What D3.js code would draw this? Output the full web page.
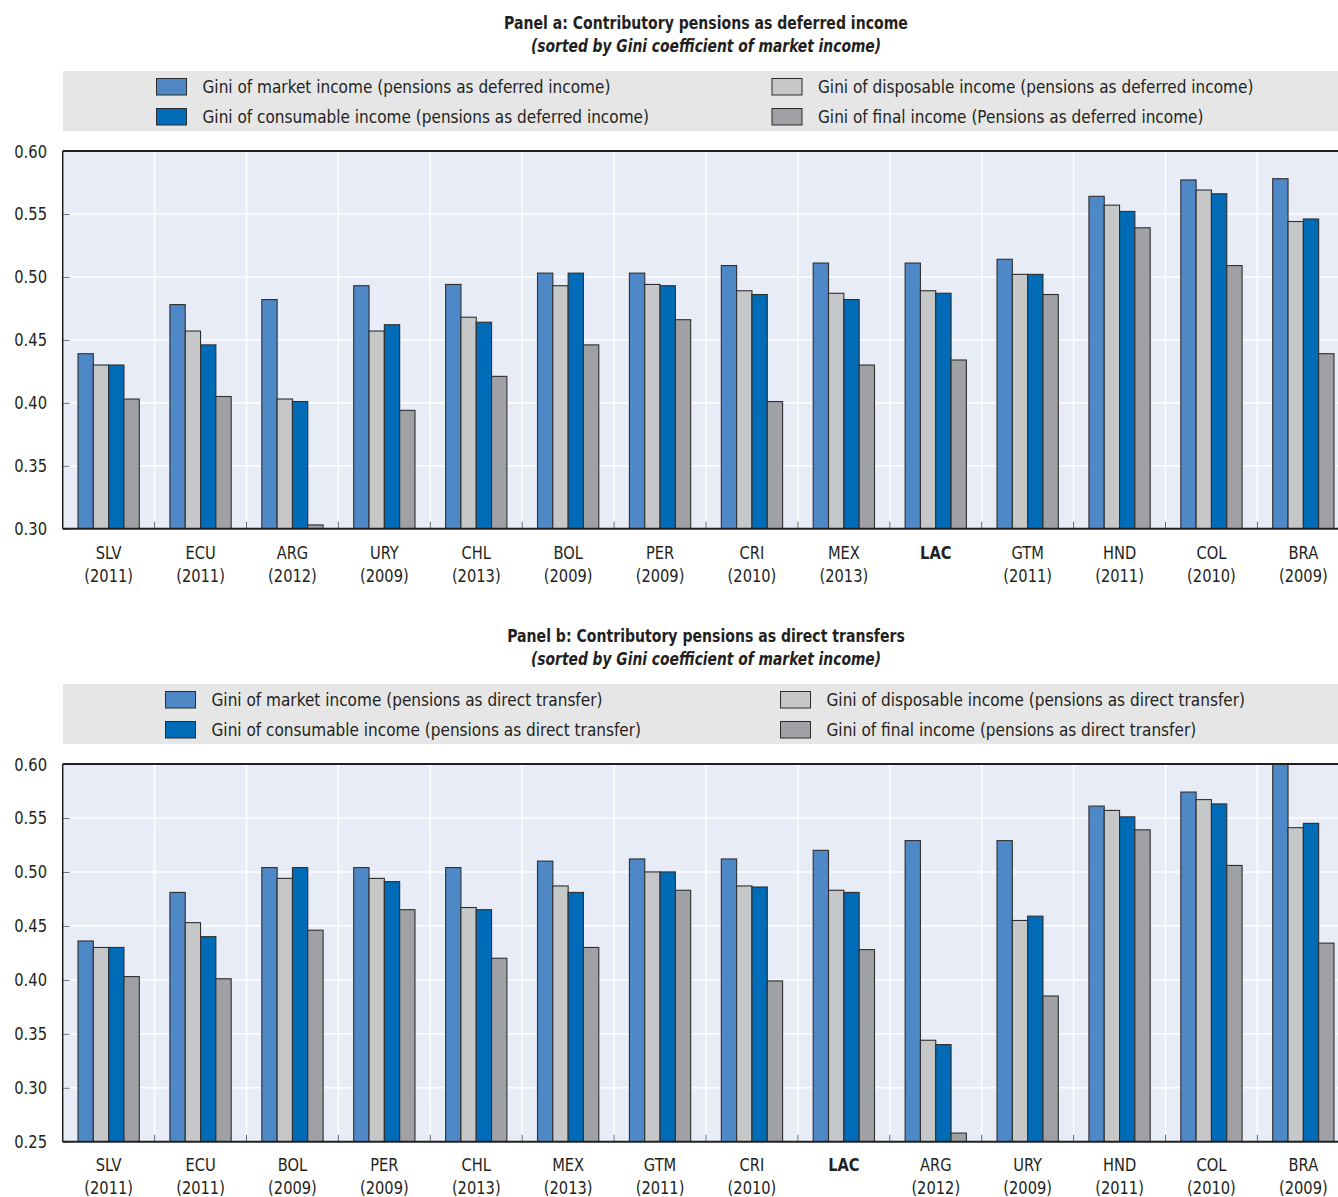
<!DOCTYPE html>
<html>
<head>
<meta charset="utf-8">
<script src="https://cdn.jsdelivr.net/npm/d3@7"></script>
<style>
  html, body { margin: 0; padding: 0; background: #ffffff; }
  svg { display: block; }
  text { font-family: "Liberation Sans Narrow", "DejaVu Sans Condensed", "Arial Narrow", sans-serif; fill: #231f20; }
</style>
</head>
<body>
<svg id="chart" width="1338" height="1197"></svg>
<script>
// ---- Panel a: contributory pensions as deferred income ----
const countriesA = ["SLV", "ECU", "ARG", "URY", "CHL", "BOL", "PER", "CRI", "MEX", "LAC", "GTM", "HND", "COL", "BRA"];
const yearsA     = ["2011", "2011", "2012", "2009", "2013", "2009", "2009", "2010", "2013", "", "2011", "2011", "2010", "2009"];
const marketA     = [0.439, 0.478, 0.482, 0.493, 0.494, 0.503, 0.503, 0.509, 0.511, 0.511, 0.514, 0.564, 0.577, 0.578];
const disposableA = [0.430, 0.457, 0.403, 0.457, 0.468, 0.493, 0.494, 0.489, 0.487, 0.489, 0.502, 0.557, 0.569, 0.544];
const consumableA = [0.430, 0.446, 0.401, 0.462, 0.464, 0.503, 0.493, 0.486, 0.482, 0.487, 0.502, 0.552, 0.566, 0.546];
const finalA      = [0.403, 0.405, 0.303, 0.394, 0.421, 0.446, 0.466, 0.401, 0.430, 0.434, 0.486, 0.539, 0.509, 0.439];
const ticksA = [0.30, 0.35, 0.40, 0.45, 0.50, 0.55, 0.60];

// ---- Panel b: contributory pensions as direct transfers ----
const countriesB = ["SLV", "ECU", "BOL", "PER", "CHL", "MEX", "GTM", "CRI", "LAC", "ARG", "URY", "HND", "COL", "BRA"];
const yearsB     = ["2011", "2011", "2009", "2009", "2013", "2013", "2011", "2010", "", "2012", "2009", "2011", "2010", "2009"];
const marketB     = [0.436, 0.481, 0.504, 0.504, 0.504, 0.510, 0.512, 0.512, 0.520, 0.529, 0.529, 0.561, 0.574, 0.610];
const disposableB = [0.430, 0.453, 0.494, 0.494, 0.467, 0.487, 0.500, 0.487, 0.483, 0.344, 0.455, 0.557, 0.567, 0.541];
const consumableB = [0.430, 0.440, 0.504, 0.491, 0.465, 0.481, 0.500, 0.486, 0.481, 0.340, 0.459, 0.551, 0.563, 0.545];
const finalB      = [0.403, 0.401, 0.446, 0.465, 0.420, 0.430, 0.483, 0.399, 0.428, 0.258, 0.385, 0.539, 0.506, 0.434];
const ticksB = [0.25, 0.30, 0.35, 0.40, 0.45, 0.50, 0.55, 0.60];

const seriesKeys = ["market", "disposable", "consumable", "final"];
const colors = { market: "#4f88c6", disposable: "#c6c7c9", consumable: "#006bb6", final: "#a0a1a4" };

const svg = d3.select("#chart");
const plotLeft = 62.7;
const bandW = 91.9;

// narrow text: the face is squeezed horizontally to get a condensed look
function label(parent, x, y, str, o = {}) {
  const t = parent.append("text")
    .attr("transform", `translate(${x},${y}) scale(${o.sx || 0.92},1)`)
    .attr("text-anchor", o.anchor || "start")
    .attr("font-size", o.size || 18)
    .text(str);
  if (o.weight) t.attr("font-weight", o.weight);
  if (o.style) t.attr("font-style", o.style);
  return t;
}

function drawPanel(opt) {
  const g = svg.append("g");
  const plotRight = plotLeft + bandW * opt.countries.length;

  // titles
  label(g, 706, opt.titleY, opt.title, { anchor: "middle", size: 17, weight: "bold", sx: 0.92 });
  label(g, 706, opt.titleY + 23, "(sorted by Gini coefficient of market income)",
    { anchor: "middle", size: 17, weight: "bold", style: "italic", sx: 0.905 });

  // legend
  g.append("rect").attr("x", 63).attr("y", opt.legendY).attr("width", 1275).attr("height", 60).attr("fill", "#e6e6e7");
  const legendItems = [
    { key: "market", label: opt.labels[0], col: 0, row: 0 },
    { key: "consumable", label: opt.labels[2], col: 0, row: 1 },
    { key: "disposable", label: opt.labels[1], col: 1, row: 0 },
    { key: "final", label: opt.labels[3], col: 1, row: 1 }
  ];
  legendItems.forEach(d => {
    const lx = opt.legendX[d.col];
    const ly = opt.legendY + 7.5 + d.row * 30;
    g.append("rect").attr("x", lx).attr("y", ly).attr("width", 30).attr("height", 16.5)
      .attr("fill", colors[d.key]).attr("stroke", "#2b2b2b").attr("stroke-width", 1);
    label(g, lx + 46, ly + 14.5, d.label, { size: 18, sx: 0.946 });
  });

  // scales
  const x0 = d3.scaleBand().domain(opt.countries).range([plotLeft, plotRight]).paddingInner(0).paddingOuter(0);
  const x1 = d3.scaleBand().domain(seriesKeys).range([0, x0.bandwidth()]).paddingInner(0).paddingOuter(1);
  const y = d3.scaleLinear().domain(opt.domain).range([opt.bottom, opt.top]);

  // plot background
  const clipId = "clip-" + opt.id;
  svg.append("clipPath").attr("id", clipId).append("rect")
    .attr("x", plotLeft).attr("y", opt.top).attr("width", plotRight - plotLeft).attr("height", opt.bottom - opt.top);
  g.append("rect").attr("x", plotLeft).attr("y", opt.top).attr("width", plotRight - plotLeft)
    .attr("height", opt.bottom - opt.top).attr("fill", "#e8ecf7");

  // gridlines
  g.append("g").selectAll("line").data(opt.ticks).join("line")
    .attr("x1", plotLeft).attr("x2", plotRight).attr("y1", d => y(d)).attr("y2", d => y(d))
    .attr("stroke", "#ffffff").attr("stroke-width", 1.5);
  g.append("g").selectAll("line").data(opt.countries.slice(1)).join("line")
    .attr("x1", d => x0(d)).attr("x2", d => x0(d)).attr("y1", opt.top).attr("y2", opt.bottom)
    .attr("stroke", "#ffffff").attr("stroke-width", 1.5);

  // bars
  const rows = opt.countries.map((c, i) => ({
    country: c,
    values: seriesKeys.map(k => ({ key: k, value: opt.series[k][i] }))
  }));
  const barsG = g.append("g").attr("clip-path", `url(#${clipId})`);
  barsG.selectAll("g").data(rows).join("g")
    .attr("transform", d => `translate(${x0(d.country)},0)`)
    .selectAll("rect").data(d => d.values).join("rect")
    .attr("x", d => x1(d.key)).attr("width", x1.bandwidth())
    .attr("y", d => y(d.value)).attr("height", d => y(opt.domain[0]) - y(d.value))
    .attr("fill", d => colors[d.key]).attr("stroke", "#2f2f2f").attr("stroke-width", 1.1);

  // y axis (ticks point into the plot)
  const yAxis = d3.axisRight(y).tickValues(opt.ticks).tickSize(7).tickFormat("");
  g.append("g").attr("transform", `translate(${plotLeft},0)`).call(yAxis)
    .call(s => s.select(".domain").remove())
    .call(s => s.selectAll(".tick line").attr("stroke", "#6a6a6a").attr("stroke-width", 1));
  opt.ticks.forEach(d => {
    label(g, 47, y(d) + 6.5, d3.format(".2f")(d), { anchor: "end", size: 18, sx: 0.91 });
  });

  // x axis: small ticks at band boundaries, pointing up
  g.append("g").selectAll("line").data(opt.countries.slice(1)).join("line")
    .attr("x1", d => x0(d)).attr("x2", d => x0(d)).attr("y1", opt.bottom).attr("y2", opt.bottom - 7)
    .attr("stroke", "#6a6a6a").attr("stroke-width", 1);

  // frame lines
  g.append("line").attr("x1", plotLeft).attr("x2", plotRight).attr("y1", opt.top).attr("y2", opt.top)
    .attr("stroke", "#231f20").attr("stroke-width", 2);
  g.append("line").attr("x1", plotLeft).attr("x2", plotRight).attr("y1", opt.bottom).attr("y2", opt.bottom)
    .attr("stroke", "#231f20").attr("stroke-width", 2);
  g.append("line").attr("x1", plotLeft).attr("x2", plotLeft).attr("y1", opt.top).attr("y2", opt.bottom)
    .attr("stroke", "#231f20").attr("stroke-width", 1.5);

  // category labels
  opt.countries.forEach((c, i) => {
    const cx = x0(c) + x0.bandwidth() / 2;
    label(g, cx, opt.bottom + opt.labelDy, c,
      { anchor: "middle", size: 18, sx: 0.905, weight: c === "LAC" ? "bold" : null });
    if (opt.years[i]) {
      label(g, cx, opt.bottom + opt.labelDy + 23, `(${opt.years[i]})`, { anchor: "middle", size: 18, sx: 0.905 });
    }
  });
}

drawPanel({
  id: "a",
  title: "Panel a: Contributory pensions as deferred income",
  titleY: 29,
  legendY: 71,
  legendX: [156.5, 772],
  labels: [
    "Gini of market income (pensions as deferred income)",
    "Gini of disposable income (pensions as deferred income)",
    "Gini of consumable income (pensions as deferred income)",
    "Gini of final income (Pensions as deferred income)"
  ],
  countries: countriesA, years: yearsA,
  series: { market: marketA, disposable: disposableA, consumable: consumableA, final: finalA },
  ticks: ticksA, domain: [0.30, 0.60], top: 151, bottom: 528.7, labelDy: 30.5
});

drawPanel({
  id: "b",
  title: "Panel b: Contributory pensions as direct transfers",
  titleY: 642,
  legendY: 684,
  legendX: [165.5, 780.5],
  labels: [
    "Gini of market income (pensions as direct transfer)",
    "Gini of disposable income (pensions as direct transfer)",
    "Gini of consumable income (pensions as direct transfer)",
    "Gini of final income (pensions as direct transfer)"
  ],
  countries: countriesB, years: yearsB,
  series: { market: marketB, disposable: disposableB, consumable: consumableB, final: finalB },
  ticks: ticksB, domain: [0.25, 0.60], top: 764, bottom: 1141.7, labelDy: 29
});
</script>
</body>
</html>
